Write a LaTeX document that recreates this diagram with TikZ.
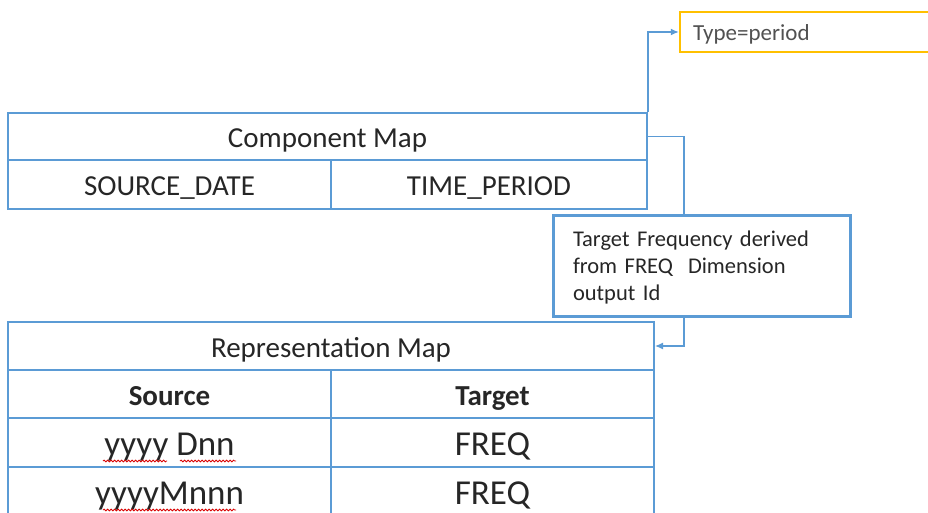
\documentclass[tikz,border=0pt]{standalone}
\usepackage{fontspec}
\setmainfont{Carlito}
\usetikzlibrary{arrows.meta,decorations.pathmorphing}
\definecolor{mapblue}{HTML}{5B9BD5}
\definecolor{typegold}{HTML}{FFC000}
\definecolor{inkgray}{HTML}{262626}
\tikzset{
  cell/.style={draw=mapblue, line width=2pt, inner sep=0pt, text=inkgray,
    text height=22pt, text depth=0pt, font=\fontsize{29}{34}\selectfont},
  bigcell/.style={cell, text height=25pt, font=\fontsize{35}{40}\selectfont},
  conn/.style={draw=mapblue, line width=1.2pt, -{Latex[length=8pt,width=7pt]}},
  spell/.style={draw=red!85!black, line width=0.8pt, decorate,
    decoration={snake, amplitude=0.9pt, segment length=3.5pt}}
}
\begin{document}
\begin{tikzpicture}[x=1pt,y=-1pt]
\useasboundingbox (0,0) rectangle (928,513);

% component map
\node[cell, minimum width=639, minimum height=47] (cmap) at (327.5,136.5) {Component Map};
\node[cell, minimum width=323, minimum height=49] (csrc) at (169.5,184.5) {SOURCE\_DATE};
\node[cell, minimum width=316, minimum height=49] (ctgt) at (489,184.5) {TIME\_PERIOD};

% representation map
\node[cell, minimum width=646, minimum height=48] (rmap) at (331,346) {Representation Map};
\node[cell, minimum width=323, minimum height=48] (rsrc) at (169.5,394) {\bfseries Source};
\node[cell, minimum width=323, minimum height=48] (rtgt) at (492.5,394) {\bfseries Target};
\node[bigcell, minimum width=323, minimum height=49] (row1s) at (169.5,442.5) {yyyy Dnn};
\node[bigcell, minimum width=323, minimum height=49] (row1t) at (492.5,442.5) {FREQ};
\node[bigcell, minimum width=323, minimum height=49] (row2s) at (169.5,491.5) {yyyyMnnn};
\node[bigcell, minimum width=323, minimum height=49] (row2t) at (492.5,491.5) {FREQ};

% spell check marks
\draw[spell] (103,461) -- (167,461);
\draw[spell] (180,461) -- (236,461);
\draw[spell] (103,510) -- (236,510);

% type box
\node[draw=typegold, line width=2.5pt, inner sep=0pt, minimum width=260, minimum height=40,
  text width=234, align=left, text=inkgray!80, font=\fontsize{23}{27}\selectfont]
  (type) at (810,32) {\raisebox{-2pt}[\height][\depth]{Type=period}};
\draw[conn] (cmap.north east) |- (type.west);

% frequency note
\draw[conn] (cmap.east) -- ++(36,0) |- (rmap.east);
\node[draw=mapblue, line width=3pt, fill=white, inner sep=0pt, minimum width=297,
  minimum height=101, text width=257, align=left, text=inkgray,
  font=\fontsize{22.5}{27}\selectfont]
  (note) at (701.5,265.5) {\raisebox{-2pt}[\height][\depth]{\parbox{257pt}{Target Frequency derived\\from FREQ~~Dimension\\output Id}}};
\end{tikzpicture}
\end{document}
